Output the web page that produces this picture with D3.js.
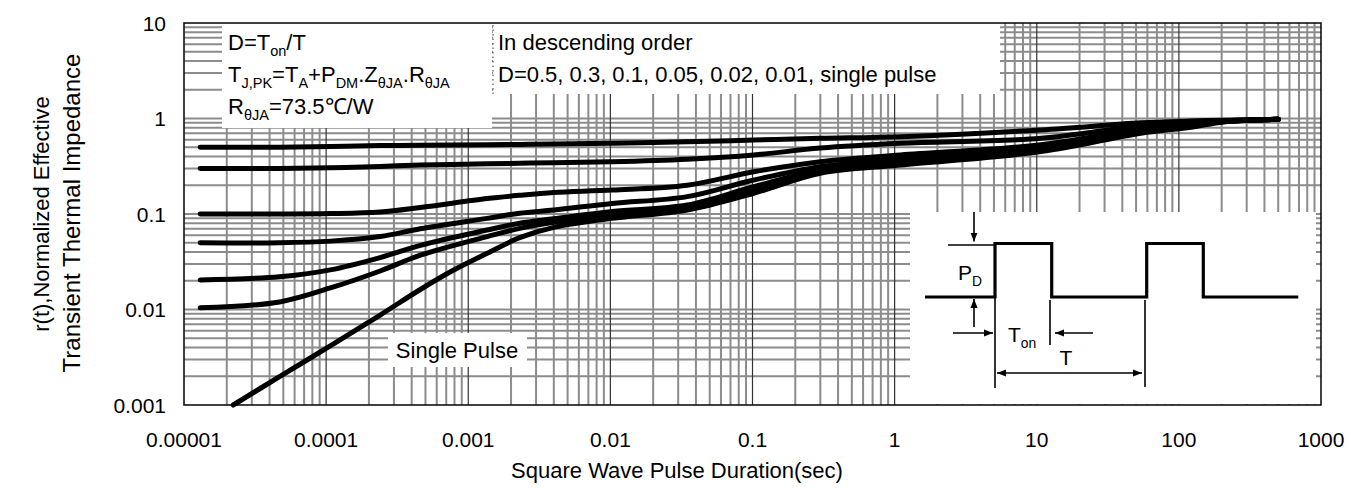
<!DOCTYPE html>
<html><head><meta charset="utf-8">
<script src="https://cdn.jsdelivr.net/npm/d3@7"></script>
<style>
body{margin:0;background:#fff}
svg{display:block}
text{font-family:"Liberation Sans",Arial,Helvetica,sans-serif;fill:#000}
</style>
</head><body>
<svg id="chart" width="1351" height="488"></svg>
<script>
// ---------- data ----------
const durations = [1.3e-5, 4.7e-5, 1.07e-4, 2.4e-4, 4.6e-4, 1.36e-3, 2.3e-3, 4e-3, 1.03e-2, 3.47e-2, 0.102, 0.30, 1.1, 10.7, 54, 122, 207, 500];
const dutyLabels = ["D=0.5", "D=0.3", "D=0.1", "D=0.05", "D=0.02", "D=0.01"];
const d050 = [0.50, 0.50, 0.51, 0.52, 0.525, 0.53, 0.535, 0.54, 0.55, 0.57, 0.595, 0.62, 0.645, 0.76, 0.90, 0.94, 0.96, 0.98];
const d030 = [0.30, 0.30, 0.305, 0.315, 0.325, 0.335, 0.34, 0.345, 0.353, 0.375, 0.415, 0.49, 0.55, 0.62, 0.84, 0.92, 0.95, 0.98];
const d010 = [0.10, 0.10, 0.101, 0.105, 0.117, 0.145, 0.157, 0.168, 0.178, 0.20, 0.277, 0.353, 0.415, 0.53, 0.78, 0.89, 0.94, 0.98];
const d005 = [0.05, 0.05, 0.052, 0.058, 0.07, 0.09, 0.102, 0.11, 0.129, 0.152, 0.227, 0.313, 0.383, 0.50, 0.76, 0.87, 0.935, 0.98];
const d002 = [0.0204, 0.022, 0.026, 0.035, 0.047, 0.068, 0.080, 0.089, 0.106, 0.124, 0.193, 0.29, 0.353, 0.48, 0.74, 0.85, 0.93, 0.98];
const d001 = [0.0104, 0.012, 0.0168, 0.0253, 0.037, 0.058, 0.0708, 0.082, 0.0977, 0.115, 0.178, 0.277, 0.34, 0.47, 0.72, 0.83, 0.93, 0.98];
const singleDurations = [2.22e-5, 4.7e-5, 1.07e-4, 2.4e-4, 4.6e-4, 7.9e-4, 1.36e-3, 2.3e-3, 4e-3, 1.03e-2, 3.47e-2, 0.102, 0.30, 1.1, 10.7, 54, 122, 207, 500];
const singleValues = [0.001, 0.00198, 0.00416, 0.00875, 0.0162, 0.0259, 0.0388, 0.0565, 0.0725, 0.090, 0.110, 0.165, 0.267, 0.326, 0.45, 0.70, 0.81, 0.92, 0.98];
const xTickValues = [1e-5, 1e-4, 1e-3, 1e-2, 1e-1, 1, 10, 100, 1000];
const xTickLabels = ["0.00001", "0.0001", "0.001", "0.01", "0.1", "1", "10", "100", "1000"];
const yTickValues = [0.001, 0.01, 0.1, 1, 10];
const yTickLabels = ["0.001", "0.01", "0.1", "1", "10"];

// ---------- layout ----------
const L = 184, R = 1321, T = 23, B = 405;
const svg = d3.select("#chart");
const x = d3.scaleLog().domain([1e-5, 1000]).range([L, R]);
const y = d3.scaleLog().domain([0.001, 10]).range([B, T]);

// grid
const minorX = [], minorY = [];
for (let e = -5; e < 3; e++) for (let m = 2; m <= 9; m++) minorX.push(m * Math.pow(10, e));
for (let e = -3; e < 1; e++) for (let m = 2; m <= 9; m++) minorY.push(m * Math.pow(10, e));
const grid = svg.append("g");
grid.selectAll(".vx").data(minorX).join("line")
  .attr("x1", d => x(d)).attr("x2", d => x(d)).attr("y1", T).attr("y2", B)
  .attr("stroke", "#8c8c8c").attr("stroke-width", 2);
grid.selectAll(".hy").data(minorY.concat([0.01, 0.1, 1])).join("line")
  .attr("y1", d => y(d)).attr("y2", d => y(d)).attr("x1", L).attr("x2", R)
  .attr("stroke", "#8c8c8c").attr("stroke-width", 2);
grid.selectAll(".vmaj").data(xTickValues.slice(1, -1)).join("line")
  .attr("x1", d => x(d)).attr("x2", d => x(d)).attr("y1", T).attr("y2", B)
  .attr("stroke", "#333").attr("stroke-width", 1.2);

// white boxes
const boxes = [
  {x: 222, y: T, w: 270, h: 105},
  {x: 493, y: T, w: 507, h: 71},
  {x: 910, y: 212, w: 406, h: 192},
  {x: 388, y: 333, w: 139, h: 34}
];
svg.append("g").selectAll("rect").data(boxes).join("rect")
  .attr("x", d => d.x).attr("y", d => d.y).attr("width", d => d.w).attr("height", d => d.h)
  .attr("fill", "#fff");
svg.append("line").attr("x1", 493).attr("x2", 493).attr("y1", T + 2).attr("y2", T + 71)
  .attr("stroke", "#555").attr("stroke-width", 1.2).attr("stroke-dasharray", "1.5,3");

// frame
svg.append("rect").attr("x", L).attr("y", T).attr("width", R - L).attr("height", B - T)
  .attr("fill", "none").attr("stroke", "#111").attr("stroke-width", 1.6);

// curves
const line = d3.line().x(d => x(d[0])).y(d => y(d[1])).curve(d3.curveCatmullRom.alpha(0.5));
const series = [d050, d030, d010, d005, d002, d001].map(vals => durations.map((t, i) => [t, vals[i]]));
series.push(singleDurations.map((t, i) => [t, singleValues[i]]));
svg.append("g").selectAll("path").data(series).join("path")
  .attr("d", line).attr("fill", "none").attr("stroke", "#000")
  .attr("stroke-width", 5).attr("stroke-linecap", "round").attr("stroke-linejoin", "round");

// axes tick labels
svg.append("g").selectAll("text").data(xTickValues).join("text")
  .attr("x", d => x(d)).attr("y", 447).attr("text-anchor", "middle").attr("font-size", 21)
  .text((d, i) => xTickLabels[i]);
svg.append("g").selectAll("text").data(yTickValues).join("text")
  .attr("x", 166).attr("y", d => y(d)).attr("dy", "0.36em").attr("text-anchor", "end").attr("font-size", 21)
  .text((d, i) => yTickLabels[i]);

// axis titles
svg.append("text").attr("x", 677).attr("y", 478).attr("text-anchor", "middle").attr("font-size", 22)
  .text("Square Wave Pulse Duration(sec)");
svg.append("text").attr("transform", "translate(49,214) rotate(-90)").attr("text-anchor", "middle").attr("font-size", 22)
  .text("r(t),Normalized Effective");
svg.append("text").attr("transform", "translate(80,213) rotate(-90)").attr("text-anchor", "middle").attr("font-size", 24)
  .text("Transient Thermal Impedance");

// rich text helper: parts = [[text, isSub], ...]
function rich(xp, yp, parts, size) {
  const t = svg.append("text").attr("x", xp).attr("y", yp).attr("font-size", size);
  let sub = false;
  parts.forEach(([s, isSub]) => {
    const sp = t.append("tspan").text(s);
    if (isSub && !sub) { sp.attr("dy", size * 0.28).attr("font-size", size * 0.66); }
    else if (isSub) { sp.attr("font-size", size * 0.66); }
    else if (!isSub && sub) { sp.attr("dy", -size * 0.28); }
    sub = isSub;
  });
  return t;
}
rich(228, 50, [["D=T", false], ["on", true], ["/T", false]], 22);
rich(228, 82, [["T", false], ["J,PK", true], ["=T", false], ["A", true], ["+P", false], ["DM", true], [".Z", false], ["\u03B8JA", true], [".R", false], ["\u03B8JA", true]], 22);
rich(228, 114, [["R", false], ["\u03B8JA", true], ["=73.5\u2103/W", false]], 22);
svg.append("text").attr("x", 498).attr("y", 50).attr("font-size", 22).text("In descending order");
svg.append("text").attr("x", 498).attr("y", 82).attr("font-size", 22)
  .text("D=" + dutyLabels.map(s => s.replace("D=", "")).join(", ") + ", single pulse");
svg.append("text").attr("x", 457).attr("y", 350).attr("dy", "0.36em").attr("text-anchor", "middle").attr("font-size", 22)
  .text("Single Pulse");

// inset: pulse waveform diagram
const defs = svg.append("defs");
defs.append("marker").attr("id", "ah").attr("viewBox", "0 0 10 10").attr("refX", 10).attr("refY", 5)
  .attr("markerWidth", 9).attr("markerHeight", 9).attr("markerUnits", "userSpaceOnUse").attr("orient", "auto-start-reverse")
  .append("path").attr("d", "M0,1 L10,5 L0,9 Z").attr("fill", "#000");
const ix = 910, iy = 212;
const lo = iy + 85, hi = iy + 31.5;
const wave = [[ix + 15, lo], [ix + 85, lo], [ix + 85, hi], [ix + 141.7, hi], [ix + 141.7, lo], [ix + 236.7, lo], [ix + 236.7, hi], [ix + 293.3, hi], [ix + 293.3, lo], [ix + 388.3, lo]];
svg.append("path").attr("d", d3.line()(wave)).attr("fill", "none").attr("stroke", "#000").attr("stroke-width", 3.2);
const thin = [
  {p: [[ix + 38, hi + 1.5], [ix + 85, hi + 1.5]]},
  {p: [[ix + 64, iy], [ix + 64, hi - 2]], end: true},
  {p: [[ix + 64, lo + 30], [ix + 64, lo + 2]], end: true},
  {p: [[ix + 43, lo + 36], [ix + 83, lo + 36]], end: true},
  {p: [[ix + 85, lo], [ix + 85, lo + 91]]},
  {p: [[ix + 140, lo + 3], [ix + 140, lo + 48]]},
  {p: [[ix + 183, lo + 36], [ix + 145, lo + 36]], end: true},
  {p: [[ix + 87, lo + 76], [ix + 232, lo + 76]], end: true, start: true},
  {p: [[ix + 235, lo + 3], [ix + 235, lo + 90]]}
];
svg.append("g").selectAll("path").data(thin).join("path")
  .attr("d", d => d3.line()(d.p)).attr("fill", "none").attr("stroke", "#000").attr("stroke-width", 1.6)
  .attr("marker-end", d => d.end ? "url(#ah)" : null)
  .attr("marker-start", d => d.start ? "url(#ah)" : null);
rich(ix + 48, iy + 68, [["P", false], ["D", true]], 21);
rich(ix + 98, iy + 130, [["T", false], ["on", true]], 21);
svg.append("text").attr("x", ix + 156).attr("y", iy + 153).attr("text-anchor", "middle").attr("font-size", 21).text("T");
</script>
</body></html>
